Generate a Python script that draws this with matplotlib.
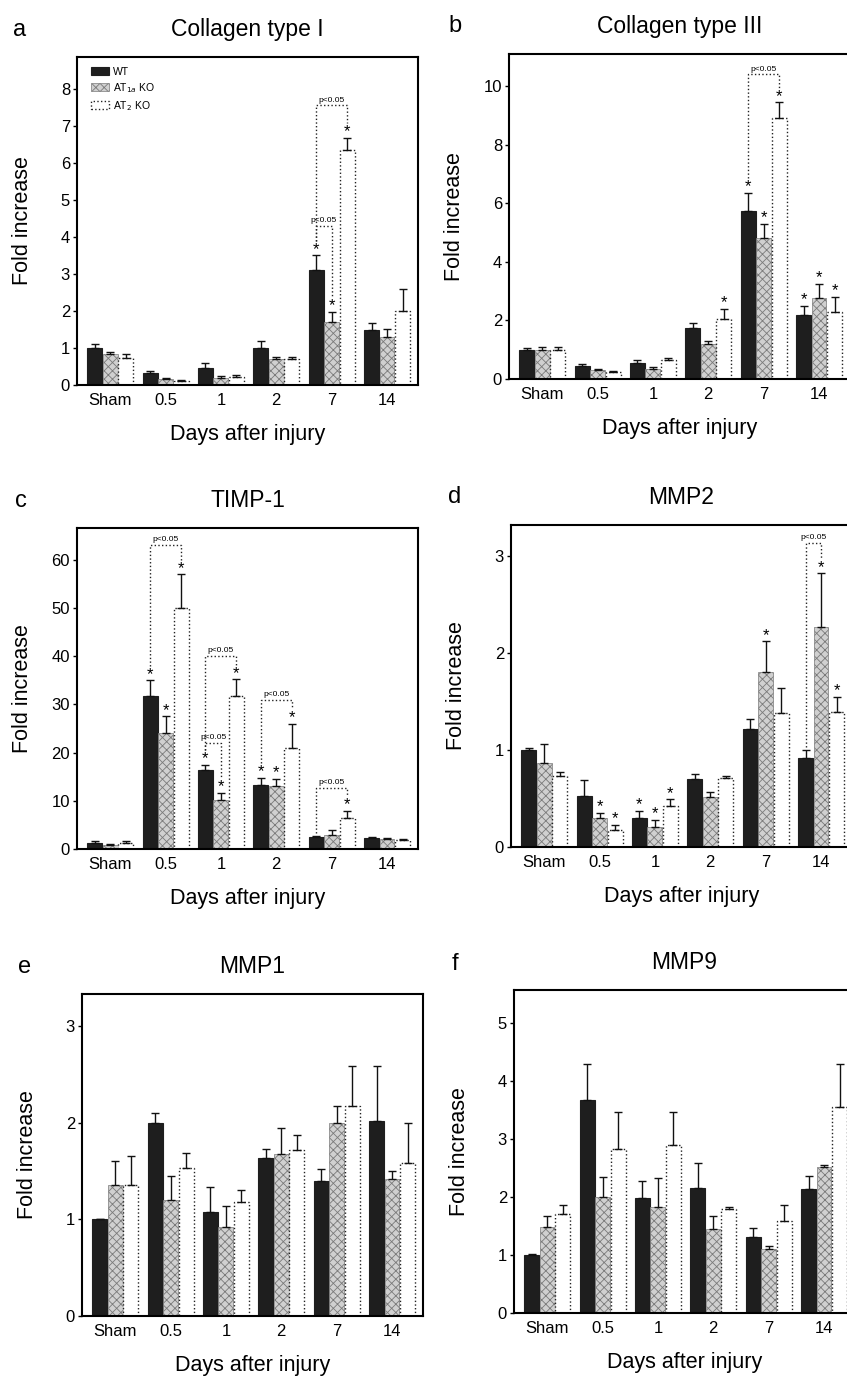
import matplotlib
matplotlib.use("Agg")
import matplotlib.pyplot as plt
import numpy as np

plt.rcParams['font.family'] = ['Liberation Sans', 'DejaVu Sans']
plt.rcParams['hatch.linewidth'] = 0.6

days = ["Sham", "0.5", "1", "2", "7", "14"]
groups = ["WT", "AT$_{1a}$ KO", "AT$_2$ KO"]

# a - Collagen type I
col1_wt = [1.0, 0.33, 0.47, 1.0, 3.1, 1.48]
col1_wt_err = [0.1, 0.05, 0.12, 0.18, 0.4, 0.2]
col1_at1 = [0.85, 0.15, 0.2, 0.7, 1.7, 1.3]
col1_at1_err = [0.05, 0.04, 0.05, 0.05, 0.27, 0.2]
col1_at2 = [0.72, 0.1, 0.22, 0.7, 6.35, 2.0]
col1_at2_err = [0.12, 0.03, 0.05, 0.05, 0.32, 0.6]

# b - Collagen type III
col3_wt = [1.0, 0.45, 0.55, 1.75, 5.75, 2.2]
col3_wt_err = [0.05, 0.05, 0.1, 0.15, 0.6, 0.3]
col3_at1 = [1.0, 0.3, 0.35, 1.2, 4.8, 2.75]
col3_at1_err = [0.1, 0.03, 0.05, 0.1, 0.5, 0.5]
col3_at2 = [1.0, 0.25, 0.65, 2.05, 8.9, 2.3]
col3_at2_err = [0.1, 0.03, 0.08, 0.35, 0.55, 0.5]

# c - TIMP-1
timp_wt = [1.2, 31.7, 16.3, 13.3, 2.4, 2.2]
timp_wt_err = [0.4, 3.3, 1.2, 1.5, 0.3, 0.3]
timp_at1 = [0.8, 24.0, 10.2, 13.0, 3.0, 2.0]
timp_at1_err = [0.3, 3.5, 1.5, 1.5, 1.0, 0.3]
timp_at2 = [1.3, 50.0, 31.8, 21.0, 6.4, 1.8]
timp_at2_err = [0.4, 7.0, 3.4, 5.0, 1.5, 0.3]

# d - MMP2
mmp2_wt = [1.0, 0.53, 0.3, 0.7, 1.22, 0.92]
mmp2_wt_err = [0.02, 0.16, 0.07, 0.05, 0.1, 0.08]
mmp2_at1 = [0.87, 0.3, 0.21, 0.52, 1.8, 2.27]
mmp2_at1_err = [0.19, 0.05, 0.07, 0.05, 0.32, 0.55]
mmp2_at2 = [0.73, 0.18, 0.42, 0.71, 1.38, 1.39]
mmp2_at2_err = [0.04, 0.05, 0.07, 0.02, 0.26, 0.16]

# e - MMP1
mmp1_wt = [1.0, 2.0, 1.08, 1.63, 1.4, 2.02]
mmp1_wt_err = [0.0, 0.1, 0.25, 0.1, 0.12, 0.57]
mmp1_at1 = [1.35, 1.2, 0.92, 1.68, 2.0, 1.42]
mmp1_at1_err = [0.25, 0.25, 0.22, 0.26, 0.17, 0.08]
mmp1_at2 = [1.35, 1.53, 1.18, 1.72, 2.17, 1.58]
mmp1_at2_err = [0.3, 0.16, 0.12, 0.15, 0.42, 0.42]

# f - MMP9
mmp9_wt = [1.0, 3.68, 1.98, 2.16, 1.31, 2.14]
mmp9_wt_err = [0.02, 0.62, 0.3, 0.42, 0.15, 0.23]
mmp9_at1 = [1.49, 2.0, 1.83, 1.45, 1.1, 2.52]
mmp9_at1_err = [0.18, 0.34, 0.5, 0.22, 0.05, 0.03]
mmp9_at2 = [1.7, 2.83, 2.89, 1.8, 1.59, 3.55]
mmp9_at2_err = [0.17, 0.64, 0.58, 0.03, 0.27, 0.75]

# significance: (day index, group index)
col1_stars = [(4, 0), (4, 1), (4, 2)]
col3_stars = [(3, 2), (4, 0), (4, 1), (4, 2), (5, 0), (5, 1), (5, 2)]
timp_stars = [(1, 0), (1, 1), (1, 2), (2, 0), (2, 1), (2, 2), (3, 0), (3, 1), (3, 2), (4, 2)]
mmp2_stars = [(1, 1), (1, 2), (2, 0), (2, 1), (2, 2), (4, 1), (5, 1), (5, 2)]

# p<0.05 brackets: (day index, group a, group b, level)
col1_brackets = [(4, 0, 1, 4.3), (4, 0, 2, 7.55)]
col3_brackets = [(4, 0, 2, 10.4)]
timp_brackets = [(1, 0, 2, 63), (2, 0, 1, 22), (2, 0, 2, 40), (3, 0, 2, 31), (4, 0, 2, 12.6)]
mmp2_brackets = [(5, 0, 1, 3.13)]

W, H = 847, 1379
fig = plt.figure(figsize=(W / 100, H / 100), dpi=100)

BW = 0.27
OFF = 0.28

def make_ax(left, top, bottom, width=341):
    return fig.add_axes([left / W, 1 - bottom / H, width / W, (bottom - top) / H])

def draw_panel(ax, title, series, errs, ymax, yticks, stars=(), brackets=(), legend=False):
    x = np.arange(len(days))
    styles = [
        dict(color='#1e1e1e', edgecolor='#1e1e1e', linewidth=0.8),
        dict(color='#d0d0d0', edgecolor='#7a7a7a', hatch='xxxx', linewidth=0.5),
        dict(color='white', edgecolor='#222222', linestyle=':', linewidth=1.0),
    ]
    tops = []
    for i, (vals, e) in enumerate(zip(series, errs)):
        xi = x + (i - 1) * OFF
        ax.bar(xi, vals, BW, label=groups[i], zorder=2, **styles[i])
        ax.errorbar(xi, vals, yerr=[np.zeros(len(vals)), e], fmt='none',
                    ecolor='#111111', elinewidth=1.0, capsize=3, capthick=1.0, zorder=3)
        tops.append(np.array(vals) + np.array(e))

    star_pad = ymax * 0.045
    for d, g in stars:
        ax.annotate('*', (d + (g - 1) * OFF, tops[g][d]), xytext=(0, -1),
                    textcoords='offset points', ha='center', va='bottom', fontsize=12)
    starset = set(stars)
    for d, ga, gb, lvl in brackets:
        xa = d + (ga - 1) * OFF
        xb = d + (gb - 1) * OFF
        ya = tops[ga][d] + (star_pad if (d, ga) in starset else 0.01 * ymax)
        yb = tops[gb][d] + (star_pad if (d, gb) in starset else 0.01 * ymax)
        ax.plot([xa, xa, xb, xb], [ya, lvl, lvl, yb], ls=':', color='#222222', lw=1.0, zorder=4)
        ax.text((xa + xb) / 2, lvl + ymax * 0.006, 'p<0.05', ha='center', va='bottom', fontsize=6)

    ax.set_xlim(-0.6, 5.56)
    ax.set_ylim(0, ymax)
    ax.set_xticks(x)
    ax.set_xticklabels(days, fontsize=12)
    ax.set_yticks(yticks)
    ax.set_yticklabels([str(t) for t in yticks], fontsize=12)
    ax.tick_params(axis='x', length=0, pad=6)
    ax.tick_params(axis='y', length=3, width=1, pad=2)
    for s in ax.spines.values():
        s.set_linewidth(1.5)
    ax.set_ylabel('Fold increase', fontsize=15.5)
    ax.yaxis.set_label_coords(-0.13, 0.5)
    ax.set_xlabel('Days after injury', fontsize=15.5)
    ax.xaxis.set_label_coords(0.5, -0.12)
    ax.set_title(title, fontsize=16.5, pad=15)
    if legend:
        ax.legend(loc='upper left', bbox_to_anchor=(0.04, 0.97), frameon=False, fontsize=7.5,
                  handlelength=1.8, handleheight=0.8, labelspacing=0.4, handletextpad=0.3,
                  borderpad=0, borderaxespad=0)

ax_a = make_ax(77, 57, 385)
draw_panel(ax_a, 'Collagen type I',
           [col1_wt, col1_at1, col1_at2], [col1_wt_err, col1_at1_err, col1_at2_err],
           8.86, list(range(0, 9)), col1_stars, col1_brackets, legend=True)

ax_b = make_ax(509, 54, 379)
draw_panel(ax_b, 'Collagen type III',
           [col3_wt, col3_at1, col3_at2], [col3_wt_err, col3_at1_err, col3_at2_err],
           11.1, list(range(0, 11, 2)), col3_stars, col3_brackets)

ax_c = make_ax(77, 528, 849)
draw_panel(ax_c, 'TIMP-1',
           [timp_wt, timp_at1, timp_at2], [timp_wt_err, timp_at1_err, timp_at2_err],
           66.6, list(range(0, 61, 10)), timp_stars, timp_brackets)

ax_d = make_ax(511, 525, 847)
draw_panel(ax_d, 'MMP2',
           [mmp2_wt, mmp2_at1, mmp2_at2], [mmp2_wt_err, mmp2_at1_err, mmp2_at2_err],
           3.32, [0, 1, 2, 3], mmp2_stars, mmp2_brackets)

ax_e = make_ax(82, 994, 1316)
draw_panel(ax_e, 'MMP1',
           [mmp1_wt, mmp1_at1, mmp1_at2], [mmp1_wt_err, mmp1_at1_err, mmp1_at2_err],
           3.33, [0, 1, 2, 3])

ax_f = make_ax(514, 990, 1313)
draw_panel(ax_f, 'MMP9',
           [mmp9_wt, mmp9_at1, mmp9_at2], [mmp9_wt_err, mmp9_at1_err, mmp9_at2_err],
           5.57, [0, 1, 2, 3, 4, 5])

# panel letters
for letter, px, py in [('a', 13, 36), ('b', 448, 32), ('c', 15, 507),
                       ('d', 448, 503), ('e', 18, 973), ('f', 452, 970)]:
    fig.text(px / W, 1 - py / H, letter, fontsize=17, ha='left', va='baseline')

fig.savefig('out.png', dpi=100)
